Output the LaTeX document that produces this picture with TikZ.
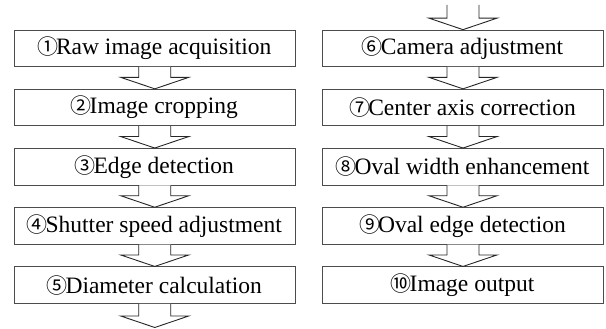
\documentclass[tikz,border=0pt]{standalone}
\usepackage{fontspec}
\setmainfont{Liberation Serif}
\newfontfamily\circfont{Noto Sans CJK JP}
\usetikzlibrary{calc}

\newcommand\cnum[1]{\kern-1pt{\circfont\fontsize{21}{21}\selectfont #1}\kern-2pt}

\tikzset{
  stepbox/.style={draw=black!70, line width=0.8pt, minimum width=281pt,
    minimum height=36.5pt, inner sep=0pt, font=\fontsize{23.5}{25}\selectfont,
    text=black},
  blockarr/.style={draw=black!85, line width=0.9pt, fill=white, line join=miter}
}

% hollow block arrow from the first point down to the second
\newcommand\flowarrow[2]{%
  \path[blockarr] let \p1=(#1), \p2=(#2) in
    (\x1-16pt,\y1) -- (\x1-16pt,\y2+11.5pt) -- (\x1-34pt,\y2+11.5pt) --
    (\x2,\y2) -- (\x1+34pt,\y2+11.5pt) -- (\x1+16pt,\y2+11.5pt) --
    (\x1+16pt,\y1);}

\begin{document}
\begin{tikzpicture}[x=1pt,y=-1pt]
\useasboundingbox (0,0) rectangle (606,329);

% left column
\node[stepbox] (s1) at (154.75,48.3)  {\cnum{①}Raw image acquisition};
\node[stepbox] (s2) at (154.75,107.5) {\cnum{②}Image cropping};
\node[stepbox] (s3) at (154.75,166.7) {\cnum{③}Edge detection};
\node[stepbox] (s4) at (154.75,225.9) {\cnum{④}Shutter speed adjustment};
\node[stepbox] (s5) at (154.75,285.1) {\cnum{⑤}Diameter calculation};

% right column
\node[stepbox] (s6)  at (463,48.3)  {\cnum{⑥}Camera adjustment};
\node[stepbox] (s7)  at (463,107.5) {\cnum{⑦}Center axis correction};
\node[stepbox] (s8)  at (463,166.7) {\cnum{⑧}Oval width enhancement};
\node[stepbox] (s9)  at (463,225.9) {\cnum{⑨}Oval edge detection};
\node[stepbox] (s10) at (463,285.1) {\cnum{⑩}Image output};

\coordinate (inR)  at (463,5);
\coordinate (outL) at (154.75,327.5);

\flowarrow{s1.south}{s2.north}
\flowarrow{s2.south}{s3.north}
\flowarrow{s3.south}{s4.north}
\flowarrow{s4.south}{s5.north}
\flowarrow{s5.south}{outL}

\flowarrow{inR}{s6.north}
\flowarrow{s6.south}{s7.north}
\flowarrow{s7.south}{s8.north}
\flowarrow{s8.south}{s9.north}
\flowarrow{s9.south}{s10.north}
\end{tikzpicture}
\end{document}
